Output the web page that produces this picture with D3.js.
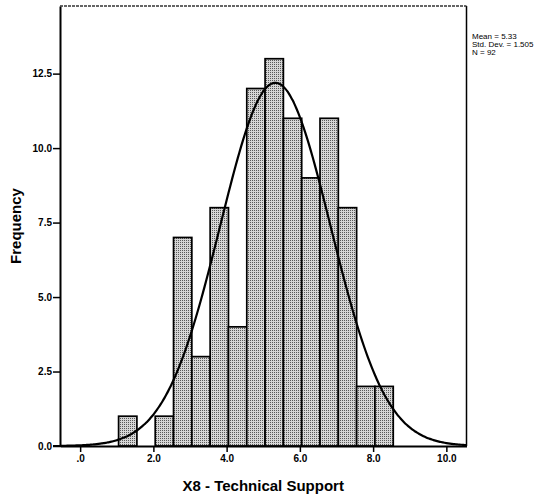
<!DOCTYPE html>
<html>
<head>
<meta charset="utf-8">
<script src="https://cdn.jsdelivr.net/npm/d3@7/dist/d3.min.js"></script>
<style>
  body { margin: 0; background: #fff; }
  .axis text { font-family: "Liberation Sans", Arial, sans-serif; font-size: 10px; font-weight: bold; fill: #000; }
  .axis line, .axis path { stroke: #000; }
</style>
</head>
<body>
<svg class="hist-svg"></svg>
<script>
// histogram bins (lower edge) and frequencies
const binStarts = [1.05, 1.55, 2.05, 2.55, 3.05, 3.55, 4.05, 4.55, 5.05, 5.55, 6.05, 6.55, 7.05, 7.55, 8.05];
const counts    = [1,    0,    1,    7,    3,    8,    4,    12,   13,   11,   9,    11,   8,    2,    2];
const binWidth = 0.5;

const xTicks = [0, 2, 4, 6, 8, 10];
const xTickLabels = [".0", "2.0", "4.0", "6.0", "8.0", "10.0"];
const yTicks = [0, 2.5, 5, 7.5, 10, 12.5];
const yTickLabels = ["0.0", "2.5", "5.0", "7.5", "10.0", "12.5"];

const stats = { mean: 5.33, sd: 1.505, n: 92 };
const statLines = ["Mean = 5.33", "Std. Dev. = 1.505", "N = 92"];

function histEntryPoint() {
  let svgSpec = {
    outerSize: { width: 560, height: 499 },
    plot: { left: 60, right: 466.5, top: 6, bottom: 446 }
  };
  new HistogramViz({ svgSpec });
}

class HistogramViz {
  constructor(props) {
    this.props = props;
    this.data = binStarts.map((b, i) => ({ x0: b, x1: b + binWidth, count: counts[i] }));
    this.initVizSpace();
    this.initScale();
    this.drawBars();
    this.drawCurve();
    this.initAxis();
    this.drawFrame();
    this.drawLabels();
  }

  initVizSpace() {
    let o = this.props.svgSpec.outerSize;
    this.svg = d3.select(".hist-svg").attr("width", o.width).attr("height", o.height);
    this.svg.append("rect").attr("width", o.width).attr("height", o.height).attr("fill", "#fff");

    // stippled grey fill, like the printed SPSS bars
    let pat = this.svg.append("defs").append("pattern")
      .attr("id", "stipple")
      .attr("patternUnits", "userSpaceOnUse")
      .attr("width", 2).attr("height", 2);
    pat.append("rect").attr("width", 2).attr("height", 2).attr("fill", "#d6d6d6");
    pat.append("rect").attr("x", 0).attr("y", 0).attr("width", 1).attr("height", 1).attr("fill", "#5a5a5a");
  }

  initScale() {
    let p = this.props.svgSpec.plot;
    this.x = d3.scaleLinear().domain([-0.55, 10.55]).range([p.left, p.right]);
    this.y = d3.scaleLinear().domain([0, 14.77]).range([p.bottom, p.top]);
  }

  drawBars() {
    this.svg.append("g").selectAll("rect")
      .data(this.data.filter(d => d.count > 0))
      .join("rect")
      .attr("x", d => this.x(d.x0))
      .attr("width", d => this.x(d.x1) - this.x(d.x0))
      .attr("y", d => this.y(d.count))
      .attr("height", d => this.y(0) - this.y(d.count))
      .attr("fill", "url(#stipple)")
      .attr("stroke", "#000")
      .attr("stroke-width", 1.7);
  }

  drawCurve() {
    // fitted normal curve, scaled to counts per bin
    let { mean, sd, n } = stats;
    let dens = (v) => n * binWidth / (sd * Math.sqrt(2 * Math.PI)) * Math.exp(-0.5 * ((v - mean) / sd) ** 2);
    let pts = d3.range(-0.55, 10.56, 0.05);
    let line = d3.line().x(v => this.x(v)).y(v => this.y(dens(v))).curve(d3.curveBasis);
    this.svg.append("path")
      .datum(pts)
      .attr("d", line)
      .attr("fill", "none")
      .attr("stroke", "#000")
      .attr("stroke-width", 2.2);
  }

  initAxis() {
    let p = this.props.svgSpec.plot;
    this.xAxis = this.svg.append("g").attr("class", "axis")
      .attr("transform", `translate(0, ${p.bottom})`)
      .call(d3.axisBottom(this.x).tickValues(xTicks)
        .tickFormat((d, i) => xTickLabels[i]).tickSize(6).tickPadding(3).tickSizeOuter(0));

    this.yAxis = this.svg.append("g").attr("class", "axis")
      .attr("transform", `translate(${p.left}, 0)`)
      .call(d3.axisLeft(this.y).tickValues(yTicks)
        .tickFormat((d, i) => yTickLabels[i]).tickSize(7).tickPadding(1).tickSizeOuter(0));

    this.svg.selectAll(".axis path.domain").attr("stroke-width", 2);
    this.svg.selectAll(".axis .tick line").attr("stroke-width", 1.5);
    // baseline runs a little left past the y axis, like the reference
    this.svg.append("line")
      .attr("x1", p.left - 7).attr("x2", p.left)
      .attr("y1", p.bottom).attr("y2", p.bottom)
      .attr("stroke", "#000").attr("stroke-width", 2);
  }

  drawFrame() {
    let p = this.props.svgSpec.plot;
    this.svg.append("line")
      .attr("x1", p.right).attr("x2", p.right).attr("y1", p.top).attr("y2", p.bottom)
      .attr("stroke", "#000").attr("stroke-width", 1.5);
    this.svg.append("line")
      .attr("x1", p.left).attr("x2", p.right).attr("y1", p.top).attr("y2", p.top)
      .attr("stroke", "#333").attr("stroke-width", 1.5)
      .attr("stroke-dasharray", "3,1");
  }

  drawLabels() {
    let p = this.props.svgSpec.plot;
    let font = "'Liberation Sans', Arial, sans-serif";
    this.svg.append("text")
      .attr("x", (p.left + p.right) / 2).attr("y", 491)
      .attr("text-anchor", "middle")
      .attr("font-family", font).attr("font-size", 15).attr("font-weight", "bold")
      .text("X8 - Technical Support");

    this.svg.append("text")
      .attr("transform", `translate(20.5, ${(p.top + p.bottom) / 2}) rotate(-90)`)
      .attr("text-anchor", "middle")
      .attr("font-family", font).attr("font-size", 15).attr("font-weight", "bold")
      .text("Frequency");

    this.svg.append("g").selectAll("text")
      .data(statLines)
      .join("text")
      .attr("x", 472).attr("y", (d, i) => 38.5 + i * 8.4)
      .attr("font-family", font).attr("font-size", 8)
      .text(d => d);
  }
}

histEntryPoint();
</script>
</body>
</html>
